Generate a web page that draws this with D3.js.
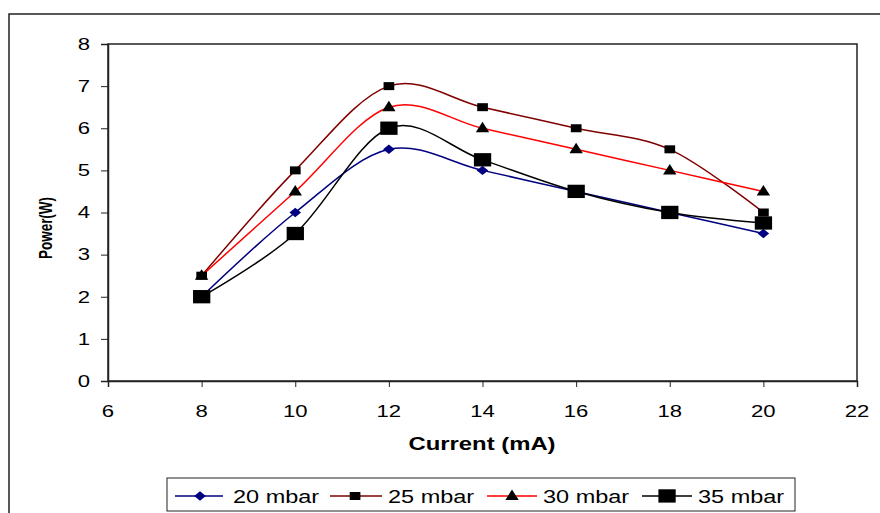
<!DOCTYPE html>
<html>
<head>
<meta charset="utf-8">
<script src="https://cdn.jsdelivr.net/npm/d3@7"></script>
<style>
  html, body { margin: 0; padding: 0; background: #fff; }
  svg { display: block; }
  text { font-family: "Liberation Sans", Arial, sans-serif; fill: #000; }
</style>
</head>
<body>
<svg id="chart" width="880" height="513"></svg>
<script>
// ---- data ----
const currents = [8, 10, 12, 14, 16, 18, 20];
const p20 = [2, 4, 5.5, 5, 4.5, 4, 3.5];
const p25 = [2.5, 5, 7, 6.5, 6, 5.5, 4];
const p30 = [2.5, 4.5, 6.5, 6, 5.5, 5, 4.5];
const p35 = [2, 3.5, 6, 5.25, 4.5, 4, 3.75];
const seriesNames = ["20 mbar", "25 mbar", "30 mbar", "35 mbar"];
const xTicks = [6, 8, 10, 12, 14, 16, 18, 20, 22];
const yTicks = [0, 1, 2, 3, 4, 5, 6, 7, 8];

const series = [
  { name: seriesNames[0], values: p20, color: "#000080", marker: "diamond" },
  { name: seriesNames[1], values: p25, color: "#800000", marker: "smallsquare" },
  { name: seriesNames[2], values: p30, color: "#ff0000", marker: "triangle" },
  { name: seriesNames[3], values: p35, color: "#000000", marker: "bigsquare" }
];

const svg = d3.select("#chart");
const plot = { left: 108, top: 44, right: 857, bottom: 381 };
const SX = 1.38; // horizontal stretch of the original rendering

const x = d3.scaleLinear().domain([6, 22]).range([plot.left, plot.right]);
const y = d3.scaleLinear().domain([0, 8]).range([plot.bottom, plot.top]);

// outer frame
svg.append("rect").attr("x", 9).attr("y", 14).attr("width", 900).attr("height", 600)
  .attr("fill", "none").attr("stroke", "#222").attr("stroke-width", 1.5);

// plot area frame
svg.append("rect").attr("x", plot.left).attr("y", plot.top)
  .attr("width", plot.right - plot.left).attr("height", plot.bottom - plot.top)
  .attr("fill", "none").attr("stroke", "#222").attr("stroke-width", 1.5);

// axes (ticks only; labels drawn separately for stretch)
const xAxis = d3.axisBottom(x).tickValues(xTicks).tickSize(6).tickFormat("");
const gx = svg.append("g").attr("transform", `translate(0,${plot.bottom})`).call(xAxis);
gx.select(".domain").attr("stroke", "#222").attr("stroke-width", 1.5);
gx.selectAll(".tick line").attr("stroke", "#222").attr("stroke-width", 1);

const yAxis = d3.axisLeft(y).tickValues(yTicks).tickSize(7).tickFormat("");
const gy = svg.append("g").attr("transform", `translate(${plot.left},0)`).call(yAxis);
gy.select(".domain").attr("stroke", "#222").attr("stroke-width", 1.5);
gy.selectAll(".tick line").attr("stroke", "#222").attr("stroke-width", 1);

// tick labels
xTicks.forEach(t => {
  svg.append("text")
    .attr("transform", `translate(${x(t)},417) scale(${SX},1)`)
    .attr("text-anchor", "middle").attr("font-size", 16).text(t);
});
yTicks.forEach(t => {
  svg.append("text")
    .attr("transform", `translate(90,${y(t) + 5.8}) scale(${SX},1)`)
    .attr("text-anchor", "end").attr("font-size", 16).text(t);
});

// axis titles
svg.append("text")
  .attr("transform", `translate(482,450) scale(1.29,1)`)
  .attr("text-anchor", "middle").attr("font-size", 18.5).attr("font-weight", "bold")
  .text("Current (mA)");
svg.append("text")
  .attr("transform", `translate(52,228) scale(${SX},1) rotate(-90)`)
  .attr("text-anchor", "middle").attr("font-size", 13.5).attr("font-weight", "bold")
  .text("Power(W)");

// markers
function drawMarker(g, type, cx, cy, color) {
  if (type === "diamond") {
    g.append("path").attr("d", `M${cx},${cy - 4.7}L${cx + 5.8},${cy}L${cx},${cy + 4.7}L${cx - 5.8},${cy}Z`)
      .attr("fill", color);
  } else if (type === "smallsquare") {
    g.append("rect").attr("x", cx - 5.3).attr("y", cy - 4).attr("width", 10.7).attr("height", 8)
      .attr("fill", "#000");
  } else if (type === "triangle") {
    g.append("path").attr("d", `M${cx},${cy - 6.5}L${cx + 6.7},${cy + 4}L${cx - 6.7},${cy + 4}Z`)
      .attr("fill", "#000");
  } else if (type === "bigsquare") {
    g.append("rect").attr("x", cx - 8.6).attr("y", cy - 6.7).attr("width", 17.3).attr("height", 13.3)
      .attr("fill", "#000");
  }
}

// lines
const line = d3.line()
  .x((d, i) => x(currents[i]))
  .y(d => y(d))
  .curve(d3.curveCardinal.tension(0));

series.forEach(s => {
  svg.append("path").datum(s.values).attr("d", line)
    .attr("fill", "none").attr("stroke", s.color).attr("stroke-width", 1.5);
});
series.forEach(s => {
  const g = svg.append("g");
  s.values.forEach((v, i) => drawMarker(g, s.marker, x(currents[i]), y(v), s.color));
});

// legend
svg.append("rect").attr("x", 167).attr("y", 478).attr("width", 628).attr("height", 33)
  .attr("fill", "#fff").attr("stroke", "#222").attr("stroke-width", 1);
const legendPos = [
  { lx1: 175, lx2: 223, mx: 200, tx: 233 },
  { lx1: 330, lx2: 382, mx: 355, tx: 388 },
  { lx1: 487, lx2: 537, mx: 512, tx: 543 },
  { lx1: 642, lx2: 692, mx: 667, tx: 698 }
];
series.forEach((s, i) => {
  const p = legendPos[i];
  const g = svg.append("g");
  g.append("line").attr("x1", p.lx1).attr("x2", p.lx2).attr("y1", 496).attr("y2", 496)
    .attr("stroke", s.color).attr("stroke-width", 1.5);
  drawMarker(g, s.marker, p.mx, 496, s.color);
  g.append("text").attr("transform", `translate(${p.tx},503) scale(1.27,1)`)
    .attr("font-size", 18.5).text(s.name);
});
</script>
</body>
</html>
